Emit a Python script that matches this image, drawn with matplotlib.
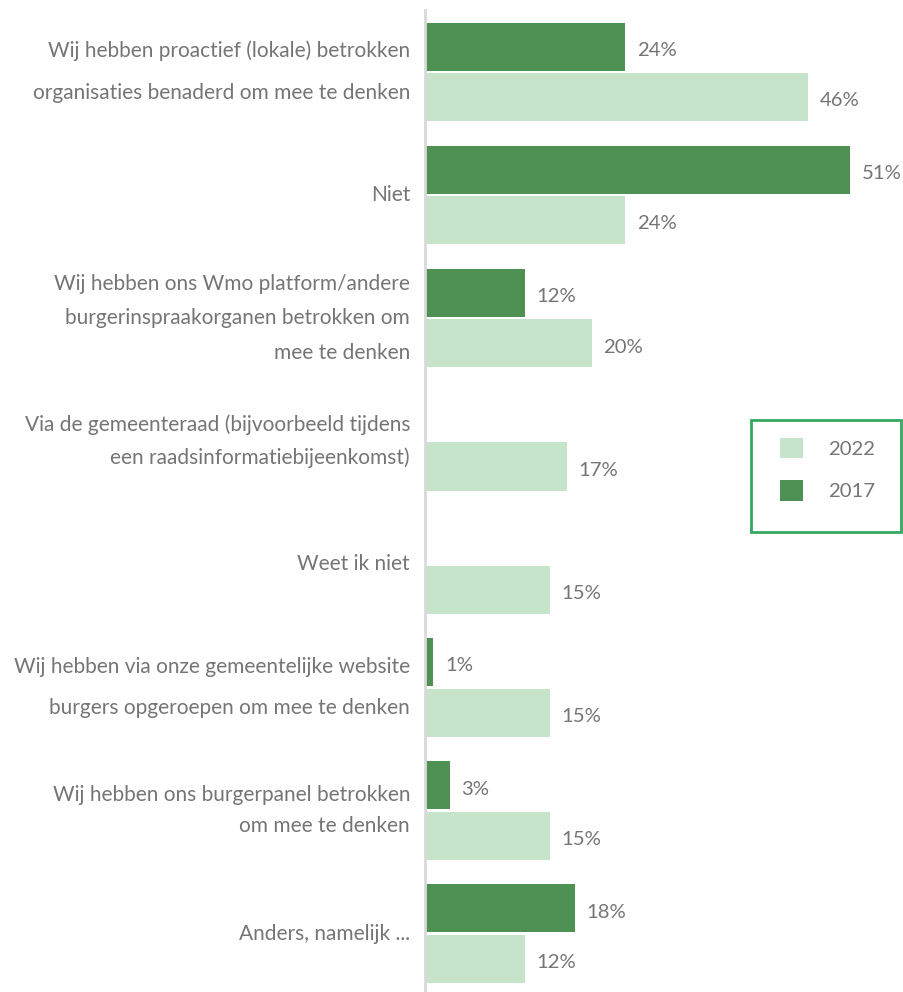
import numpy as np
import matplotlib
matplotlib.use("Agg")
import matplotlib.pyplot as plt
from matplotlib.patches import Patch, Rectangle

# antwoordcategorieën en percentages per jaar
categorieen = [
    "Wij hebben proactief (lokale) betrokken\norganisaties benaderd om mee te denken",
    "Niet",
    "Wij hebben ons Wmo platform/andere\nburgerinspraakorganen betrokken om\nmee te denken",
    "Via de gemeenteraad (bijvoorbeeld tijdens\neen raadsinformatiebijeenkomst)",
    "Weet ik niet",
    "Wij hebben via onze gemeentelijke website\nburgers opgeroepen om mee te denken",
    "Wij hebben ons burgerpanel betrokken\nom mee te denken",
    "Anders, namelijk ...",
]
waarden_2017 = [24, 51, 12, np.nan, np.nan, 1, 3, 18]
waarden_2022 = [46, 24, 20, 17, 15, 15, 15, 12]
regelafstand = [2.35, 1.0, 1.9, 1.75, 1.0, 2.35, 1.7, 1.0]

kleur_2017 = "#4f9153"
kleur_2022 = "#c5e4c9"
tekstkleur = "#757575"

plt.rcParams["font.family"] = ["Lato", "DejaVu Sans"]

fig = plt.figure(figsize=(9.04, 9.92), dpi=100)
ax = fig.add_axes([425 / 904, -5.7 / 992, 479 / 904, 987.3 / 992])

y = np.arange(len(categorieen))
hoogte = 0.39
for i in y:
    if not np.isnan(waarden_2017[i]):
        ax.barh(i - 0.205, waarden_2017[i], height=hoogte, color=kleur_2017)
        ax.text(waarden_2017[i] + 1.4, i - 0.205 + 0.03, f"{waarden_2017[i]:.0f}%",
                va="center", ha="left", fontsize=14.6, color=tekstkleur)
    ax.barh(i + 0.205, waarden_2022[i], height=hoogte, color=kleur_2022)
    ax.text(waarden_2022[i] + 1.4, i + 0.205 + 0.03, f"{waarden_2022[i]:.0f}%",
            va="center", ha="left", fontsize=14.6, color=tekstkleur)
    # labels links van de as
    ax.text(-1.8, i, categorieen[i], ha="right", va="center", fontsize=15.0,
            color=tekstkleur, linespacing=regelafstand[i],
            multialignment="right")

ax.set_xlim(0, 479 / 8.33)
ax.set_ylim(7.52, -0.5)
ax.set_xticks([])
ax.set_yticks([])
for kant in ["top", "right", "bottom"]:
    ax.spines[kant].set_visible(False)
ax.spines["left"].set_color("#d9d9d9")
ax.spines["left"].set_linewidth(2)

# legenda met losse kader
handles = [Patch(facecolor=kleur_2022, label="2022"),
           Patch(facecolor=kleur_2017, label="2017")]
leg = fig.legend(handles=handles, loc="upper left",
                 bbox_to_anchor=(780 / 904, 1 - 438 / 992),
                 frameon=False, fontsize=14.6, handlelength=1.15,
                 handleheight=1.15, handletextpad=1.2, borderpad=0,
                 labelspacing=1.1, borderaxespad=0)
for t in leg.get_texts():
    t.set_color(tekstkleur)
fig.patches.append(Rectangle((751 / 904, 1 - 532 / 992), 150 / 904, 112 / 992,
                             transform=fig.transFigure, fill=False,
                             edgecolor="#35a862", linewidth=2))

fig.savefig("out.png", dpi=100)
